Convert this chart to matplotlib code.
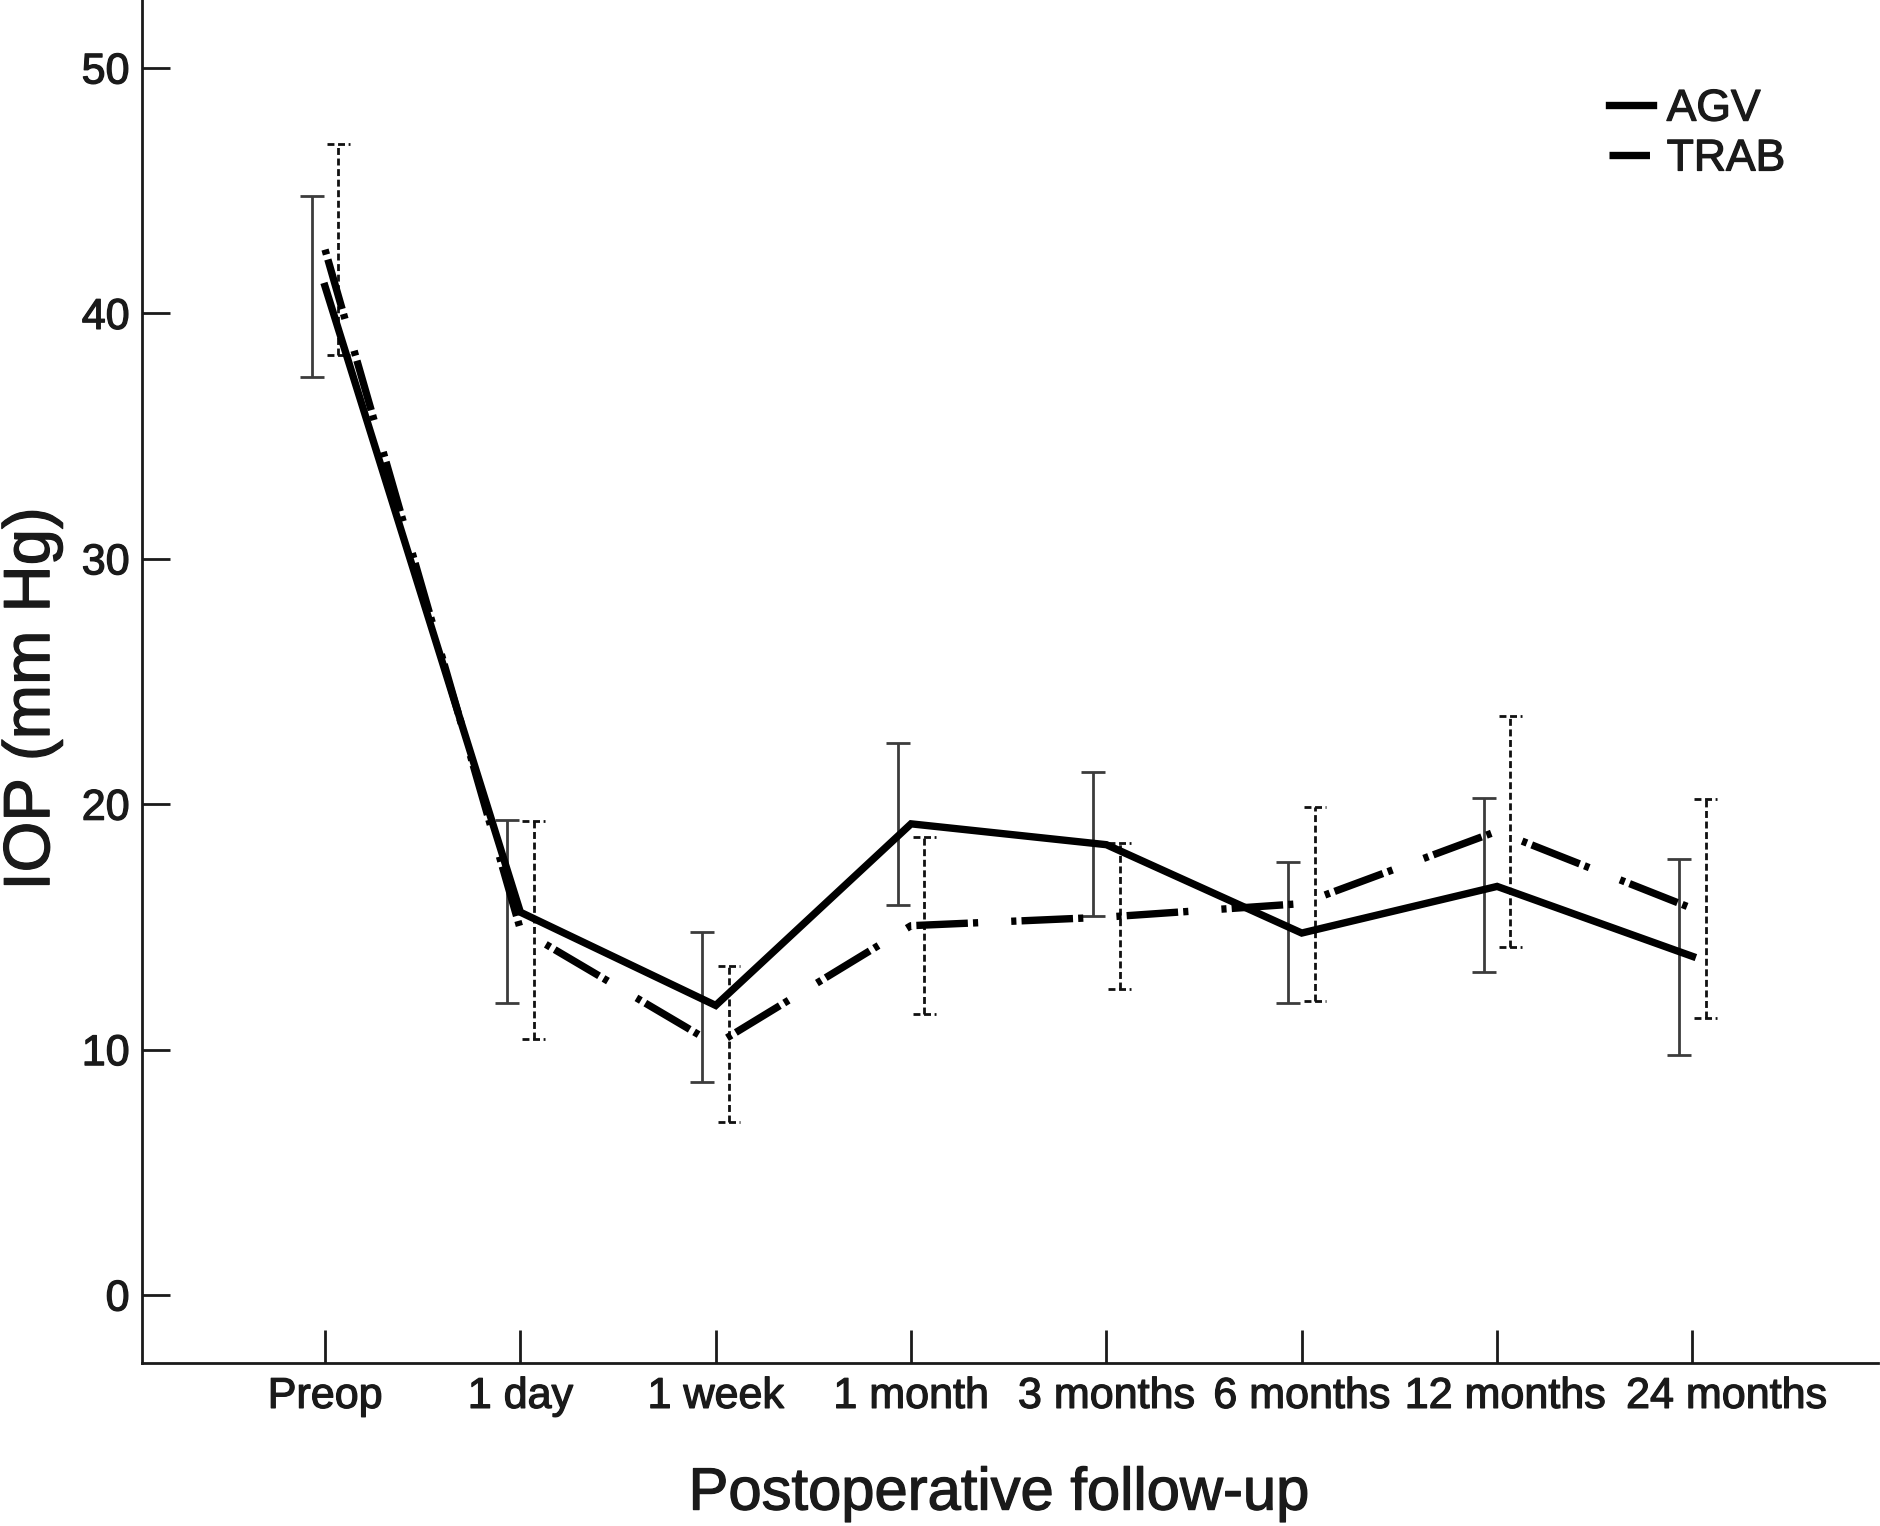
import matplotlib
matplotlib.use('Agg')
import matplotlib.pyplot as plt
import matplotlib.patheffects as pe
import matplotlib.transforms as mtransforms
import numpy as np
from matplotlib.lines import Line2D

plt.rcParams['font.family'] = ['Liberation Sans', 'DejaVu Sans']

timepoints = ['Preop', '1 day', '1 week', '1 month', '3 months', '6 months', '12 months', '24 months']
agv_mean = [41.1, 15.6, 11.8, 19.2, 18.35, 14.75, 16.65, 13.8]
agv_low = [37.4, 11.9, 8.7, 15.9, 15.45, 11.9, 13.15, 9.8]
agv_high = [44.8, 19.35, 14.8, 22.5, 21.3, 17.65, 20.25, 17.75]
trab_mean = [42.6, 14.9, 10.2, 15.05, 15.4, 15.95, 18.9, 15.75]
trab_low = [38.3, 10.45, 7.05, 11.45, 12.45, 12.0, 14.2, 11.3]
trab_high = [46.9, 19.3, 13.4, 18.65, 18.4, 19.9, 23.6, 20.2]
y_ticks = [0, 10, 20, 30, 40, 50]

TXT = '#1a1a1a'
thick = [pe.withStroke(linewidth=0.9, foreground=TXT)]

fig = plt.figure(figsize=(18.81, 15.26), dpi=100)
ax = fig.add_axes([142 / 1881, 163 / 1526, (1878 - 142) / 1881, 1 - 163 / 1526])

x = np.arange(len(timepoints))
off = 0.068
agv_m = np.array(agv_mean); trab_m = np.array(trab_mean)
agv_err = [agv_m - np.array(agv_low), np.array(agv_high) - agv_m]
trab_err = [trab_m - np.array(trab_low), np.array(trab_high) - trab_m]

# error bars
ax.errorbar(x - off, agv_m, yerr=agv_err, fmt='none', ecolor='#3c3c3c',
            elinewidth=2.0, capsize=8.5, capthick=2.0, zorder=2)
eb = ax.errorbar(x + off, trab_m, yerr=trab_err, fmt='none', ecolor='#111111',
                 elinewidth=2.0, capsize=0, zorder=2)
dash_eb = (0, (2.5, 1.3))
eb[2][0].set_linestyle(dash_eb)
cw = 0.058
ax.hlines(trab_high, x + off - cw, x + off + cw, colors='#111111', linewidth=2.0,
          linestyles=[dash_eb], zorder=2)
ax.hlines(trab_low, x + off - cw, x + off + cw, colors='#111111', linewidth=2.0,
          linestyles=[dash_eb], zorder=2)

# mean lines
trab_dash = (0, (0.7, 0.7, 7.0, 0.7, 0.7, 4.5))
ax.plot(x, agv_m, color='black', linewidth=5.3, solid_joinstyle='miter', zorder=3)
ax.plot(x, trab_m, color='black', linewidth=5.3, linestyle=trab_dash,
        dash_capstyle='butt', zorder=3)

ax.set_xlim(-0.937, 7.95)
ax.set_ylim(-2.77, 52.77)
ax.set_xticks(x)
ax.set_xticklabels(timepoints)
ax.set_yticks(y_ticks)

for s in ['top', 'right']:
    ax.spines[s].set_visible(False)
for s in ['left', 'bottom']:
    ax.spines[s].set_linewidth(2.0)
    ax.spines[s].set_color(TXT)

ax.tick_params(axis='x', direction='in', length=24, width=2, pad=10,
               labelsize=31, colors=TXT)
ax.tick_params(axis='y', direction='in', length=20, width=2, pad=9,
               labelsize=31, colors=TXT)

# nudge crowded labels right, as in the original
shifts = {6: 0.08, 7: 0.34}
for i, lab in enumerate(ax.get_xticklabels()):
    if i in shifts:
        lab.set_transform(lab.get_transform() +
                          mtransforms.ScaledTranslation(shifts[i], 0, fig.dpi_scale_trans))
for lab in ax.get_xticklabels() + ax.get_yticklabels():
    lab.set_path_effects(thick)

ax.set_xlabel('Postoperative follow-up', fontsize=43, color=TXT, path_effects=thick)
ax.xaxis.set_label_coords(0.4937, -0.076)
ax.set_ylabel('IOP (mm Hg)', fontsize=47, color=TXT, path_effects=thick)
ax.yaxis.set_label_coords(-0.046, 0.487)

handles = [Line2D([], [], color='black', linewidth=5.3),
           Line2D([], [], color='black', linewidth=5.3, linestyle=(0, (5.5, 1, 0.7, 10)))]
leg = ax.legend(handles, ['AGV', 'TRAB'], loc='upper left', bbox_to_anchor=(0.845, 0.935),
                frameon=False, fontsize=32, handlelength=1.0, handletextpad=0.3,
                labelspacing=0.2, borderpad=0, borderaxespad=0)
for t in leg.get_texts():
    t.set_color(TXT)
    t.set_path_effects(thick)

fig.savefig('out.png', dpi=100, facecolor='white')
